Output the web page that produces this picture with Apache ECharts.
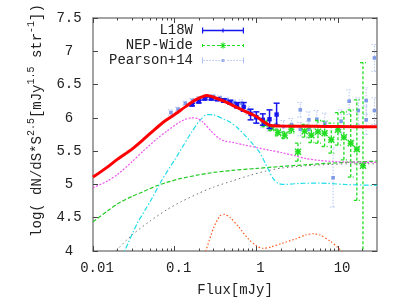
<!DOCTYPE html>
<html><head><meta charset="utf-8">
<script src="https://cdn.jsdelivr.net/npm/echarts@6/dist/echarts.min.js"></script>
<style>html,body{margin:0;padding:0;background:#fff}#c{width:400px;height:300px}</style>
</head><body><div id="c"></div>
<script>
// ---------- data ----------
const XMIN = 0.01, XMAX = 30;
const YMIN = 4, YMAX = 7.5, YSTEP = 0.5;
const XTICK_VALUES = [0.01, 0.1, 1, 10];
const XTICK_LABELS = ['0.01', '0.1', '1', '10'];
const XMINOR_VALUES = [0.02,0.03,0.04,0.05,0.06,0.07,0.08,0.09,
                       0.2,0.3,0.4,0.5,0.6,0.7,0.8,0.9,
                       2,3,4,5,6,7,8,9,20];

// model curves [flux, log value]
const TOTAL = [[0.01,5.11],[0.015,5.26],[0.02,5.38],[0.03,5.53],[0.041,5.67],[0.055,5.81],[0.07,5.92],[0.1,6.05],[0.14,6.18],[0.18,6.27],[0.22,6.32],[0.25,6.335],[0.3,6.31],[0.4,6.25],[0.55,6.17],[0.75,6.09],[1.0,6.02],[1.2,5.95],[1.5,5.885],[2,5.878],[5,5.873],[10,5.87],[30,5.865]];
const MAGENTA = [[0.01,4.95],[0.015,5.05],[0.02,5.15],[0.03,5.34],[0.041,5.50],[0.06,5.68],[0.08,5.80],[0.12,5.95],[0.16,6.0],[0.19,5.99],[0.22,5.94],[0.28,5.80],[0.35,5.69],[0.42,5.65],[0.5,5.635],[0.7,5.595],[1.0,5.555],[1.5,5.51],[2,5.48],[3,5.43],[4,5.39],[6,5.36],[10,5.34],[30,5.33]];
const CYAN = [[0.02,3.75],[0.0244,4.0],[0.035,4.42],[0.05,4.74],[0.07,5.07],[0.1,5.37],[0.13,5.6],[0.16,5.78],[0.2,5.95],[0.25,6.05],[0.3,6.045],[0.4,5.98],[0.47,5.94],[0.6,5.84],[0.75,5.72],[0.9,5.61],[1.1,5.48],[1.32,5.29],[1.6,5.09],[1.85,5.015],[2.2,5.0],[3.4,5.015],[6,5.02],[12,5.0],[30,4.985]];
const GREEN = [[0.01,4.44],[0.015,4.6],[0.02,4.71],[0.03,4.82],[0.041,4.89],[0.06,4.98],[0.08,5.03],[0.12,5.09],[0.2,5.145],[0.3,5.18],[0.5,5.21],[1.0,5.24],[2,5.27],[4,5.295],[8,5.32],[15,5.335],[30,5.35]];
const GRAY = [[0.015,3.85],[0.019,4.0],[0.03,4.24],[0.05,4.45],[0.08,4.62],[0.12,4.74],[0.2,4.87],[0.3,4.96],[0.5,5.05],[0.8,5.13],[1.3,5.2],[2,5.245],[4,5.28],[8,5.30],[15,5.31],[30,5.31]];
const ORANGE = [[0.22,3.9],[0.24,4.0],[0.3,4.35],[0.36,4.53],[0.41,4.55],[0.48,4.5],[0.6,4.37],[0.8,4.18],[1.0,4.08],[1.2,4.04],[1.5,4.06],[2,4.11],[3,4.18],[4,4.24],[5,4.26],[6,4.24],[8,4.15],[10,4.05],[12,3.95]];

// observed counts [flux, value, low, high]
const L18W = [[0.163,6.20,6.18,6.22],[0.197,6.245,6.225,6.265],[0.233,6.29,6.27,6.31],[0.281,6.29,6.27,6.31],[0.333,6.28,6.26,6.30],[0.40,6.26,6.235,6.285],[0.48,6.235,6.205,6.265],[0.58,6.19,6.15,6.23],[0.70,6.165,6.10,6.23],[0.85,6.06,5.97,6.13],[1.0,6.01,5.92,6.09],[1.2,5.97,5.89,6.06],[1.45,5.98,5.84,6.12],[1.77,6.05,5.89,6.22]];
const NEP = [[1.26,5.92,5.87,5.97],[1.53,5.85,5.81,5.89],[1.84,5.78,5.73,5.83],[2.22,5.74,5.69,5.79],[2.68,5.83,5.77,5.89],[3.23,5.49,5.35,5.62],[3.9,5.80,5.71,5.90],[4.71,5.74,5.63,5.85],[5.68,5.79,5.62,5.96],[6.85,5.77,5.57,5.95],[8.27,5.67,5.47,5.92],[9.98,5.82,5.59,6.08],[11.8,5.71,5.37,6.09],[14.3,5.62,5.11,6.12],[17.0,5.53,4.76,6.27],[20.2,5.28,3.5,6.83]];
const PEARSON = [[0.09,6.08,6.04,6.12],[0.11,6.13,6.10,6.16],[0.135,6.22,6.19,6.25],[0.165,6.26,6.23,6.29],[0.2,6.29,6.26,6.32],[0.245,6.31,6.28,6.34],[0.3,6.32,6.29,6.35],[0.36,6.30,6.27,6.33],[0.44,6.27,6.24,6.30],[0.54,6.23,6.19,6.27],[0.66,6.22,6.17,6.27],[0.8,6.11,6.05,6.17],[0.98,6.00,5.93,6.07],[1.2,5.92,5.85,5.99],[1.45,5.87,5.80,5.94],[1.75,5.90,5.82,5.98],[2.15,5.87,5.79,5.96],[2.7,5.90,5.81,5.99],[3.45,6.12,6.01,6.23],[3.45,5.83,5.73,5.93],[4.4,5.97,5.85,6.09],[4.4,5.83,5.70,5.95],[5.5,5.98,5.85,6.11],[6.9,5.92,5.77,6.07],[8.7,5.1,4.66,5.55],[10.9,5.95,5.77,6.12],[13.7,6.25,6.05,6.42],[17.7,6.11,5.90,6.30],[22.1,6.26,6.05,6.45],[22.1,5.97,5.75,6.18],[27.9,6.90,6.70,7.10],[27.9,6.11,5.90,6.30]];

// ---------- styling ----------
const FONT = '"Liberation Mono", "DejaVu Sans Mono", monospace';
const TXT = '#222';
const FRAME = '#858585';
const TICKC = '#444';
const lg = v => Math.log10(v);

function labelFor(v) {
  for (let i = 0; i < XTICK_VALUES.length; i++) if (Math.abs(lg(XTICK_VALUES[i]) - v) < 1e-6) return XTICK_LABELS[i];
  return '';
}

function tickAxis(position, ticks, len, withLabels, withLine) {
  return {
    type: 'value', position, min: lg(XMIN), max: lg(XMAX), gridIndex: 0,
    axisLine: { show: withLine, onZero: false, lineStyle: { color: FRAME, width: 1.5 } },
    axisTick: { show: true, inside: true, length: len, customValues: ticks.map(lg), lineStyle: { color: TICKC, width: 1 } },
    axisLabel: withLabels ? { show: true, customValues: XTICK_VALUES.map(lg), formatter: labelFor, margin: 10, padding: [0,0,0,8], fontFamily: FONT, fontSize: 14, color: TXT } : { show: false },
    splitLine: { show: false },
    axisPointer: { show: false },
    name: withLabels ? 'Flux[mJy]' : '', nameLocation: 'middle', nameGap: 32,
    nameTextStyle: { fontFamily: FONT, fontSize: 14, color: TXT }
  };
}

function curve(name, data, color, width, dash, z) {
  return { name, type: 'line', data, xAxisIndex: 0, yAxisIndex: 0, symbol: 'none', showSymbol: false,
    smooth: 0.25, clip: true, silent: true, z,
    lineStyle: { color, width, type: dash } };
}

function errorBars(name, data, st) {
  return {
    name, type: 'custom', coordinateSystem: 'cartesian2d', xAxisIndex: 0, yAxisIndex: 0,
    data, clip: true, z: st.z, silent: true,
    itemStyle: { color: st.legendColor },
    encode: { x: 0, y: 1 },
    renderItem: function (params, api) {
      const x = api.value(0), y = api.value(1), lo = api.value(2), hi = api.value(3);
      const p = api.coord([x, y]), pl = api.coord([x, lo]), ph = api.coord([x, hi]);
      const ls = { stroke: st.color, lineWidth: st.width };
      if (st.dash) ls.lineDash = st.dash;
      const cw = st.cap;
      const ch = [
        { type: 'line', shape: { x1: p[0], y1: pl[1], x2: p[0], y2: ph[1] }, style: ls },
        { type: 'line', shape: { x1: p[0] - cw, y1: pl[1], x2: p[0] + cw, y2: pl[1] }, style: ls },
        { type: 'line', shape: { x1: p[0] - cw, y1: ph[1], x2: p[0] + cw, y2: ph[1] }, style: ls }
      ];
      const r = st.ms;
      if (st.marker === 'square') {
        ch.push({ type: 'rect', shape: { x: p[0] - r, y: p[1] - r, width: 2 * r, height: 2 * r }, style: { fill: st.markColor } });
      } else if (st.marker === 'star') {
        const ms = { stroke: st.markColor, lineWidth: 1.5 };
        ch.push({ type: 'line', shape: { x1: p[0] - r, y1: p[1], x2: p[0] + r, y2: p[1] }, style: ms });
        ch.push({ type: 'line', shape: { x1: p[0], y1: p[1] - r, x2: p[0], y2: p[1] + r }, style: ms });
        ch.push({ type: 'line', shape: { x1: p[0] - r, y1: p[1] - r, x2: p[0] + r, y2: p[1] + r }, style: ms });
        ch.push({ type: 'line', shape: { x1: p[0] - r, y1: p[1] + r, x2: p[0] + r, y2: p[1] - r }, style: ms });
      }
      return { type: 'group', children: ch };
    }
  };
}

// legend icons (42 x 6 units)
const ICON_L18W = 'path://M0,0h1.2v6h-1.2zM0,2.3h42v1.4h-42zM40.8,0h1.2v6h-1.2zM20.4,1h1.2v4h-1.2z';
let nep = 'path://M0,1.5h1v3h-1zM41,1.5h1v3h-1z';
for (let x = 0; x < 42; x += 5) { if (x < 17 || x > 23) nep += 'M' + x + ',2.4h' + Math.min(3, 42 - x) + 'v1.2h-' + Math.min(3, 42 - x) + 'z'; }
nep += 'M20.4,0h1.2v6h-1.2zM18,2.4h6v1.2h-6zM18.3,0.6L19.3,0.6L23.7,5.4L22.7,5.4ZM22.7,0.6L23.7,0.6L19.3,5.4L18.3,5.4Z';
let pea = 'path://M0,0h0.8v6h-0.8zM41.2,0h0.8v6h-0.8z';
for (let x = 1.5; x < 41; x += 3) { if (x < 18.5 || x > 22.5) pea += 'M' + x + ',2.5h1.2v1h-1.2z'; }
pea += 'M19.4,1.4h3.2v3.2h-3.2z';

function legendRow(name, icon, top) {
  return {
    data: [{ name, icon }], orient: 'vertical', right: 156, top, align: 'right', padding: 0,
    itemWidth: 42, itemHeight: 6, symbolKeepAspect: false, selectedMode: false,
    textStyle: { fontFamily: FONT, fontSize: 14, color: TXT, lineHeight: 14, padding: [0, 4, 0, 0] }
  };
}

const option = {
  animation: false,
  backgroundColor: '#fff',
  grid: { left: 93, right: 23, top: 18, bottom: 49, containLabel: false, outerBoundsMode: 'none' },
  legend: [
    legendRow('L18W', ICON_L18W, 23.5),
    legendRow('NEP-Wide', nep, 38.5),
    legendRow('Pearson+14', pea, 53.5)
  ],
  xAxis: [
    { type: 'log', logBase: 10, min: XMIN, max: XMAX, show: false, gridIndex: 0, axisLine: { onZero: false } },
    tickAxis('bottom', XTICK_VALUES, 5, true, true),
    tickAxis('bottom', XMINOR_VALUES, 2.5, false, false),
    tickAxis('top', XTICK_VALUES, 5, false, true),
    tickAxis('top', XMINOR_VALUES, 2.5, false, false)
  ],
  yAxis: [
    {
      type: 'value', min: YMIN, max: YMAX, interval: YSTEP, position: 'left',
      axisLine: { show: true, onZero: false, lineStyle: { color: FRAME, width: 1.5 } },
      axisTick: { show: true, inside: true, length: 5, lineStyle: { color: TICKC } },
      axisLabel: { align: 'center', margin: 24, formatter: v => String(v), fontFamily: FONT, fontSize: 14, color: TXT },
      splitLine: { show: false },
      name: '{n|log( dN/dS*S}{s|2.5}{n|[mJy}{s|1.5}{n| str}{s|-1}{n|])}',
      nameLocation: 'middle', nameGap: 49, nameRotate: 90,
      nameTextStyle: {
        fontFamily: FONT, color: TXT, padding: [0, 0, 0, 28],
        rich: {
          n: { fontFamily: FONT, fontSize: 14, color: TXT, lineHeight: 18, verticalAlign: 'bottom' },
          s: { fontFamily: FONT, fontSize: 10, color: TXT, lineHeight: 10, verticalAlign: 'top' }
        }
      }
    },
    {
      type: 'value', min: YMIN, max: YMAX, interval: YSTEP, position: 'right',
      axisLine: { show: true, onZero: false, lineStyle: { color: FRAME, width: 1.5 } },
      axisTick: { show: true, inside: true, length: 5, lineStyle: { color: TICKC } },
      axisLabel: { show: false }, splitLine: { show: false }
    }
  ],
  series: [
    errorBars('Pearson+14', PEARSON, { color: '#b4c6f2', width: 1, dash: [1.5, 1.5], cap: 3, marker: 'square', ms: 1.8, markColor: '#7f9be6', legendColor: '#9fb4ec', z: 2 }),
    errorBars('NEP-Wide', NEP, { color: '#22dd22', width: 1.3, dash: [3, 2], cap: 3, marker: 'star', ms: 3, markColor: '#22dd22', legendColor: '#22dd22', z: 3 }),
    errorBars('L18W', L18W, { color: '#1515ee', width: 1.5, cap: 3, marker: 'square', ms: 2.2, markColor: '#1515ee', legendColor: '#1515ee', z: 4 }),
    curve('gray', GRAY, '#707070', 1, [1.5, 3], 5),
    curve('green', GREEN, '#22cc22', 1.2, [4, 2], 5),
    curve('orange', ORANGE, '#ff5a1f', 1.2, [1.5, 2], 5),
    curve('cyan', CYAN, '#22dde8', 1.2, [5, 2, 1.5, 2], 5),
    curve('magenta', MAGENTA, '#ee55ee', 1.2, [2, 1.5], 5),
    curve('total', TOTAL, '#ff0000', 3, 'solid', 6)
  ]
};

const chart = echarts.init(document.getElementById('c'), null, { renderer: 'canvas' });
chart.setOption(option);
</script></body></html>
